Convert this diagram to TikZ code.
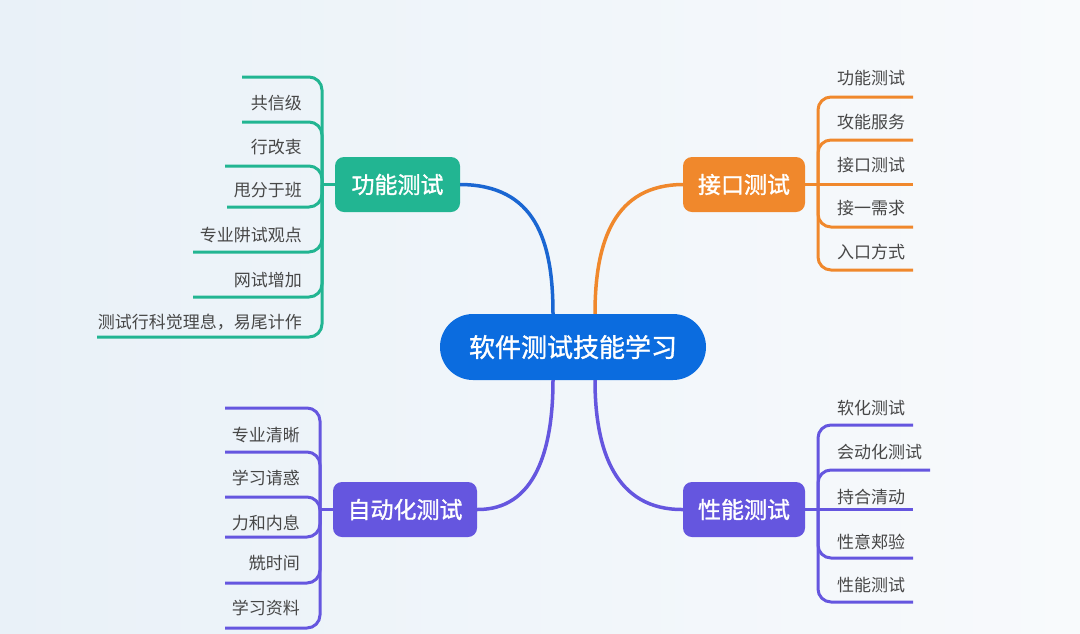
\documentclass[tikz,border=0pt]{standalone}
\usepackage{fontspec}
\setmainfont{Noto Sans CJK SC}
\newfontfamily\cjkmed[FakeBold=1.3]{Noto Sans CJK SC}
\usetikzlibrary{calc}
\definecolor{gr}{HTML}{22B592}
\definecolor{orn}{HTML}{F0882C}
\definecolor{pur}{HTML}{6556DF}
\definecolor{blu}{HTML}{0B6CDF}
\definecolor{bcon}{HTML}{1A66D2}
\definecolor{leaftxt}{HTML}{474747}
\definecolor{bgL}{HTML}{E9F1F8}
\definecolor{bgR}{HTML}{F8FAFC}
\begin{document}
\begin{tikzpicture}[x=1pt,y=-1pt,
  leaf/.style={text=leaftxt, font=\fontsize{17}{17}\selectfont, inner sep=0pt},
  branch/.style={rounded corners=9pt, minimum height=55pt, text=white, font=\cjkmed\fontsize{23}{23}\selectfont, inner sep=0pt},
  leafline/.style={line width=3pt, rounded corners=13pt},
  conn/.style={line width=3.5pt}]
\shade[left color=bgL, right color=bgR] (0,0) rectangle (1080,633);
\useasboundingbox (0,0) rectangle (1080,633);

% center and branch nodes
\node[fill=blu, rounded corners=33pt, minimum width=266pt, minimum height=66pt, inner sep=0pt,
      text=white, font=\cjkmed\fontsize{26}{26}\selectfont] (c) at (573,347) {软件测试技能学习};
\node[branch, fill=gr, minimum width=125pt] (f) at (397.5,184.5) {功能测试};
\node[branch, fill=orn, minimum width=122pt] (i) at (744,184.5) {接口测试};
\node[branch, fill=pur, minimum width=144pt] (a) at (405,509.5) {自动化测试};
\node[branch, fill=pur, minimum width=122pt] (p) at (744,509.5) {性能测试};

% connectors from center
\coordinate (c1) at ($(c.north)+(-20,0)$);
\coordinate (c2) at ($(c.north)+(22,0)$);
\coordinate (c3) at ($(c.south)+(-20,0)$);
\coordinate (c4) at ($(c.south)+(22,0)$);
\draw[conn, bcon] (f.east) .. controls (535,185) and (553,240) .. (c1);
\draw[conn, orn] (i.west) .. controls (615,185) and (595,240) .. (c2);
\draw[conn, pur] (a.east) .. controls (535,510) and (553,450) .. (c3);
\draw[conn, pur] (p.west) .. controls (615,510) and (595,450) .. (c4);

% left top (green)
\coordinate (fs) at (322,184.5);
\draw[gr, line width=3pt] (f.west) -- (fs);
\foreach \y/\xs in {77/242,122/242,166/225,207/227,252/193,297/193,337/97}
  \draw[leafline, gr] (\xs,\y) -- (322,\y) -- (fs);
\node[leaf, anchor=east] (f1) at (302,103) {共信级};
\node[leaf, anchor=east] (f2) at (302,147) {行改衷};
\node[leaf, anchor=east] (f3) at (302,190) {甩分于班};
\node[leaf, anchor=east] (f4) at (302,235) {专业阱试观点};
\node[leaf, anchor=east] (f5) at (302,280) {网试增加};
\node[leaf, anchor=east] (f6) at (302,322) {测试行科觉理息，易尾计作};

% right top (orange)
\coordinate (is) at (818,184.5);
\draw[orn, line width=3pt] (i.east) -- (913,184.5);
\foreach \y in {97,140,227,270}
  \draw[leafline, orn] (913,\y) -- (818,\y) -- (is);
\node[leaf, anchor=west] (i1) at (837,78) {功能测试};
\node[leaf, anchor=west] (i2) at (837,122) {攻能服务};
\node[leaf, anchor=west] (i3) at (837,165) {接口测试};
\node[leaf, anchor=west] (i4) at (837,208) {接一需求};
\node[leaf, anchor=west] (i5) at (837,252) {入口方式};

% left bottom (purple)
\coordinate (as) at (320,509.5);
\draw[pur, line width=3pt] (a.west) -- (as);
\foreach \y in {408,452,497,537,583,628}
  \draw[leafline, pur] (225,\y) -- (320,\y) -- (as);
\node[leaf, anchor=east] (a1) at (300,435) {专业清晰};
\node[leaf, anchor=east] (a2) at (300,478) {学习请惑};
\node[leaf, anchor=east] (a3) at (300,523) {力和内息};
\node[leaf, anchor=east] (a4) at (300,563) {兟时间};
\node[leaf, anchor=east] (a5) at (300,608) {学习资料};

% right bottom (purple)
\coordinate (ps) at (818,509.5);
\draw[pur, line width=3pt] (p.east) -- (913,509.5);
\foreach \y/\xe in {425/913,470/930,558/913,602/913}
  \draw[leafline, pur] (\xe,\y) -- (818,\y) -- (ps);
\node[leaf, anchor=west] (p1) at (837,408) {软化测试};
\node[leaf, anchor=west] (p2) at (837,452) {会动化测试};
\node[leaf, anchor=west] (p3) at (837,497) {持合清动};
\node[leaf, anchor=west] (p4) at (837,542) {性意郏验};
\node[leaf, anchor=west] (p5) at (837,585) {性能测试};
\end{tikzpicture}
\end{document}
